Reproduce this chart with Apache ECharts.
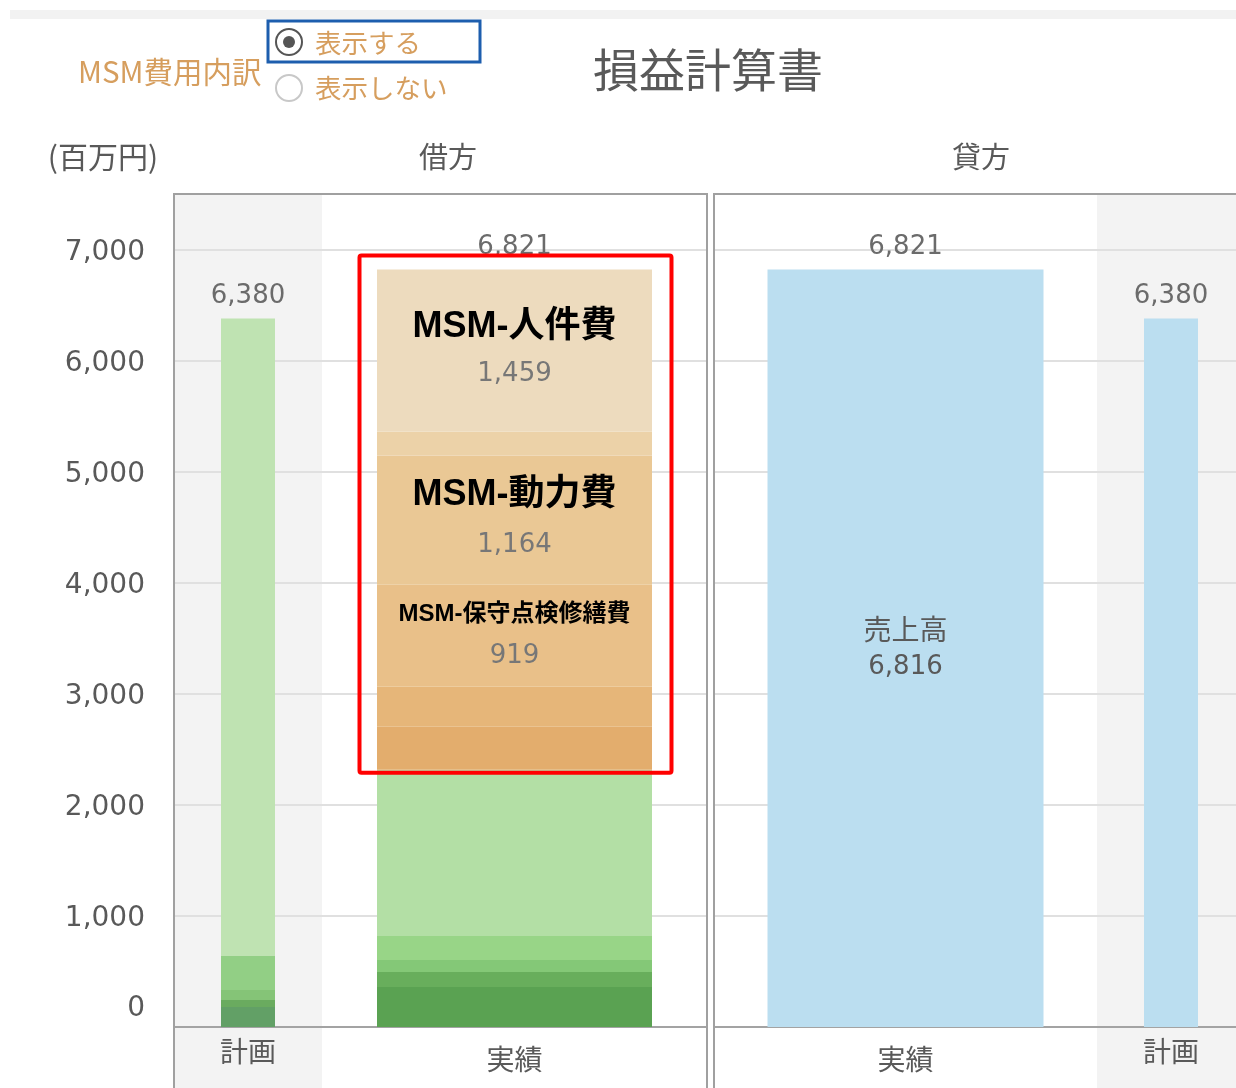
<!DOCTYPE html>
<html>
<head>
<meta charset="utf-8">
<script src="https://cdn.jsdelivr.net/npm/echarts@6/dist/echarts.min.js"></script>
<style>
  html, body { margin: 0; padding: 0; background: #ffffff; }
  #chart { width: 1236px; height: 1088px; }
</style>
</head>
<body>
<div id="chart"></div>
<script>
// ---- data (百万円) ----
const debitCategories = ['計画', '実績'];
const creditCategories = ['実績', '計画'];

// 借方・計画: stacked segments, bottom → top
const planDebitValues = [180, 63, 90, 306, 5741];
// 借方・実績: green cost segments, bottom → top
const actualGreenValues = [360, 135, 108, 216, 1497];
// 借方・実績: MSM cost segments, bottom → top
const msmValues = [387, 360, 919, 1164, 216, 1459];
const msmNames = ['', '', 'MSM-保守点検修繕費', 'MSM-動力費', '', 'MSM-人件費'];

// 貸方・実績: 売上高 + small remainder
const salesName = '売上高';
const actualCreditValues = [6816, 5];
// 貸方・計画
const planCreditValues = [6380];

const yTickInterval = 1000;
const yMax = 7500;

// ---- styling ----
const CJK = '"Noto Sans CJK JP", "Noto Sans", sans-serif';
const NUM = '"DejaVu Sans", "Noto Sans CJK JP", sans-serif';
const TEXT = '#595959';
const planGreens = ['#62a066', '#6aab5f', '#85c477', '#92cf85', '#bfe3b2'];
const actualGreens = ['#5aa252', '#68ae5c', '#84c877', '#98d587', '#b3dfa5'];
const msmColors = ['#e3ad6d', '#e6b679', '#e9c089', '#eac895', '#ecd2a8', '#eddbbe'];
const blueColors = ['#bbdef0', '#bbdef0'];
const BAND_GREY = '#f3f3f3';

const fmt = v => Number(v).toLocaleString('en-US');
const sum = arr => arr.reduce((a, b) => a + b, 0);

// four single-category grids: 借方(計画, 実績) | 貸方(実績, 計画)
const gridDefs = [
  { left: 174, width: 148, cat: debitCategories[0], band: true, labelMargin: 10 },
  { left: 322, width: 385, cat: debitCategories[1], band: false, labelMargin: 18 },
  { left: 714, width: 383, cat: creditCategories[0], band: false, labelMargin: 18 },
  { left: 1097, width: 148, cat: creditCategories[1], band: true, labelMargin: 10 }
];
const PLOT_TOP = 194;
const PLOT_BOTTOM = 61;

const grid = gridDefs.map(g => ({
  left: g.left, width: g.width, top: PLOT_TOP, bottom: PLOT_BOTTOM,
  show: g.band, backgroundColor: BAND_GREY, borderWidth: 0,
  outerBoundsMode: 'none'
}));

const xAxis = gridDefs.map((g, i) => ({
  type: 'category', gridIndex: i, data: [g.cat],
  axisLine: { show: true, lineStyle: { color: '#a3a3a3', width: 2 } },
  axisTick: { show: false },
  axisLabel: { fontSize: 28, color: TEXT, fontFamily: CJK, margin: g.labelMargin }
}));

// tick labels sit just below their grid line; the zero label is lifted above the base line
const yAxis = gridDefs.map((g, i) => ({
  type: 'value', gridIndex: i, min: 0, max: yMax, interval: yTickInterval,
  axisLine: { show: false }, axisTick: { show: false },
  splitLine: { show: true, lineStyle: { color: '#e0e0e0', width: 2 } },
  axisLabel: {
    show: i === 0, showMaxLabel: false,
    formatter: v => (v === 0 ? '{z|' + fmt(v) + '}' : '{t|' + fmt(v) + '}'),
    rich: {
      t: { fontSize: 28, color: TEXT, fontFamily: NUM, padding: [6, 0, 0, 0] },
      z: { fontSize: 28, color: TEXT, fontFamily: NUM, padding: [0, 0, 36, 0] }
    },
    margin: 29
  }
}));

const series = [];

function addStack(values, colors, gi, stackName, barWidth, labelFor) {
  values.forEach((v, k) => {
    const s = {
      type: 'bar', xAxisIndex: gi, yAxisIndex: gi, stack: stackName,
      data: [v], barWidth: barWidth, barGap: '-100%',
      itemStyle: { color: colors[k] },
      emphasis: { disabled: true },
      label: { show: false }
    };
    const lab = labelFor ? labelFor(k, v) : null;
    if (lab) s.label = lab;
    series.push(s);
  });
}

function addTotal(values, gi, barWidth) {
  series.push({
    type: 'bar', xAxisIndex: gi, yAxisIndex: gi,
    data: [sum(values)], barWidth: barWidth, barGap: '-100%',
    itemStyle: { color: 'rgba(0,0,0,0)' }, silent: true, z: 1,
    label: {
      show: true, position: 'top', distance: 9, formatter: p => fmt(p.value),
      fontSize: 26, color: '#6b6b6b', fontFamily: NUM
    }
  });
}

// grid 0: 借方・計画
addStack(planDebitValues, planGreens, 0, 'planDebit', 54);
addTotal(planDebitValues, 0, 54);

// grid 1: 借方・実績 (greens then MSM)
const actualDebitValues = actualGreenValues.concat(msmValues);
const actualDebitColors = actualGreens.concat(msmColors);
const msmStyle = [
  null, null,
  { name: 24, nameLH: 40, val: 26, valLH: 42 },
  { name: 36, nameLH: 50, val: 26, valLH: 50 },
  null,
  { name: 36, nameLH: 47, val: 26, valLH: 47 }
];
addStack(actualDebitValues, actualDebitColors, 1, 'actualDebit', 275, (k, v) => {
  const m = k - actualGreenValues.length;
  if (m < 0 || !msmNames[m]) return null;
  const st = msmStyle[m];
  return {
    show: true, position: 'inside',
    formatter: '{n|' + msmNames[m] + '}\n{v|' + fmt(v) + '}',
    rich: {
      n: { fontSize: st.name, fontWeight: 'bold', color: '#000000',
           fontFamily: '"Liberation Sans", "Noto Sans CJK JP", sans-serif',
           lineHeight: st.nameLH, align: 'center' },
      v: { fontSize: st.val, color: '#777777', fontFamily: NUM,
           lineHeight: st.valLH, align: 'center' }
    }
  };
});
addTotal(actualDebitValues, 1, 275);

// grid 2: 貸方・実績
addStack(actualCreditValues, blueColors, 2, 'actualCredit', 276, (k, v) => {
  if (k !== 0) return null;
  return {
    show: true, position: 'inside',
    formatter: '{n|' + salesName + '}\n{v|' + fmt(v) + '}',
    rich: {
      n: { fontSize: 28, color: TEXT, fontFamily: CJK, lineHeight: 38, align: 'center' },
      v: { fontSize: 26, color: TEXT, fontFamily: NUM, lineHeight: 38, align: 'center' }
    }
  };
});
addTotal(actualCreditValues, 2, 276);

// grid 3: 貸方・計画
addStack(planCreditValues, blueColors, 3, 'planCredit', 54);
addTotal(planCreditValues, 3, 54);

const chart = echarts.init(document.getElementById('chart'), null, { renderer: 'canvas' });
chart.setOption({
  backgroundColor: '#ffffff',
  animation: false,
  grid, xAxis, yAxis, series
});

// highlight box around the MSM segments, placed from the axis scale
const msmBase = sum(actualGreenValues);
const debitTotal = sum(actualDebitValues);
const pTop = chart.convertToPixel({ xAxisIndex: 1, yAxisIndex: 1 }, [debitCategories[1], debitTotal]);
const pBot = chart.convertToPixel({ xAxisIndex: 1, yAxisIndex: 1 }, [debitCategories[1], msmBase]);
const boxLeft = pTop[0] - 155, boxRight = pTop[0] + 157;
const boxTop = pTop[1] - 14, boxBottom = pBot[1] + 3;

const orange = '#d69e5e';
chart.setOption({
  graphic: [
    // top strip
    { type: 'rect', shape: { x: 10, y: 10, width: 1240, height: 9 }, style: { fill: '#f2f2f2' }, z: -5 },
    // MSM費用内訳 toggle
    { type: 'text', style: { x: 78, y: 72, text: 'MSM費用内訳', fill: orange, font: '29.5px ' + CJK, textAlign: 'left', textVerticalAlign: 'middle' } },
    { type: 'rect', shape: { x: 268, y: 21, width: 212, height: 41 }, style: { fill: 'none', stroke: '#1d5eae', lineWidth: 3 } },
    { type: 'circle', shape: { cx: 289, cy: 42, r: 13 }, style: { fill: '#ffffff', stroke: '#555555', lineWidth: 2 } },
    { type: 'circle', shape: { cx: 289, cy: 42, r: 6 }, style: { fill: '#555555' } },
    { type: 'text', style: { x: 315, y: 43, text: '表示する', fill: orange, font: '26.5px ' + CJK, textAlign: 'left', textVerticalAlign: 'middle' } },
    { type: 'circle', shape: { cx: 289, cy: 88, r: 13 }, style: { fill: '#ffffff', stroke: '#c8c8c8', lineWidth: 2 } },
    { type: 'text', style: { x: 315, y: 88, text: '表示しない', fill: orange, font: '26.5px ' + CJK, textAlign: 'left', textVerticalAlign: 'middle' } },
    // title
    { type: 'text', style: { x: 708, y: 70, text: '損益計算書', fill: TEXT, font: '46px ' + CJK, textAlign: 'center', textVerticalAlign: 'middle' } },
    // headers
    { type: 'text', style: { x: 103, y: 157, text: '(百万円)', fill: TEXT, font: '30px ' + CJK, textAlign: 'center', textVerticalAlign: 'middle' } },
    { type: 'text', style: { x: 448, y: 157, text: '借方', fill: TEXT, font: '29px ' + CJK, textAlign: 'center', textVerticalAlign: 'middle' } },
    { type: 'text', style: { x: 981, y: 157, text: '貸方', fill: TEXT, font: '29px ' + CJK, textAlign: 'center', textVerticalAlign: 'middle' } },
    // grey bands below the plan columns
    { type: 'rect', shape: { x: 174, y: 1028, width: 148, height: 70 }, style: { fill: BAND_GREY }, z: -5 },
    { type: 'rect', shape: { x: 1097, y: 1028, width: 160, height: 70 }, style: { fill: BAND_GREY }, z: -5 },
    // panel frames
    { type: 'rect', shape: { x: 174, y: 194, width: 533, height: 950 }, style: { fill: 'none', stroke: '#a0a0a0', lineWidth: 2 }, z: 10 },
    { type: 'rect', shape: { x: 714, y: 194, width: 560, height: 950 }, style: { fill: 'none', stroke: '#a0a0a0', lineWidth: 2 }, z: 10 },
    // MSM highlight box
    { type: 'rect', shape: { x: boxLeft, y: boxTop, width: boxRight - boxLeft, height: boxBottom - boxTop, r: 2 },
      style: { fill: 'none', stroke: '#ff0000', lineWidth: 4 }, z: 20 }
  ]
});
</script>
</body>
</html>
